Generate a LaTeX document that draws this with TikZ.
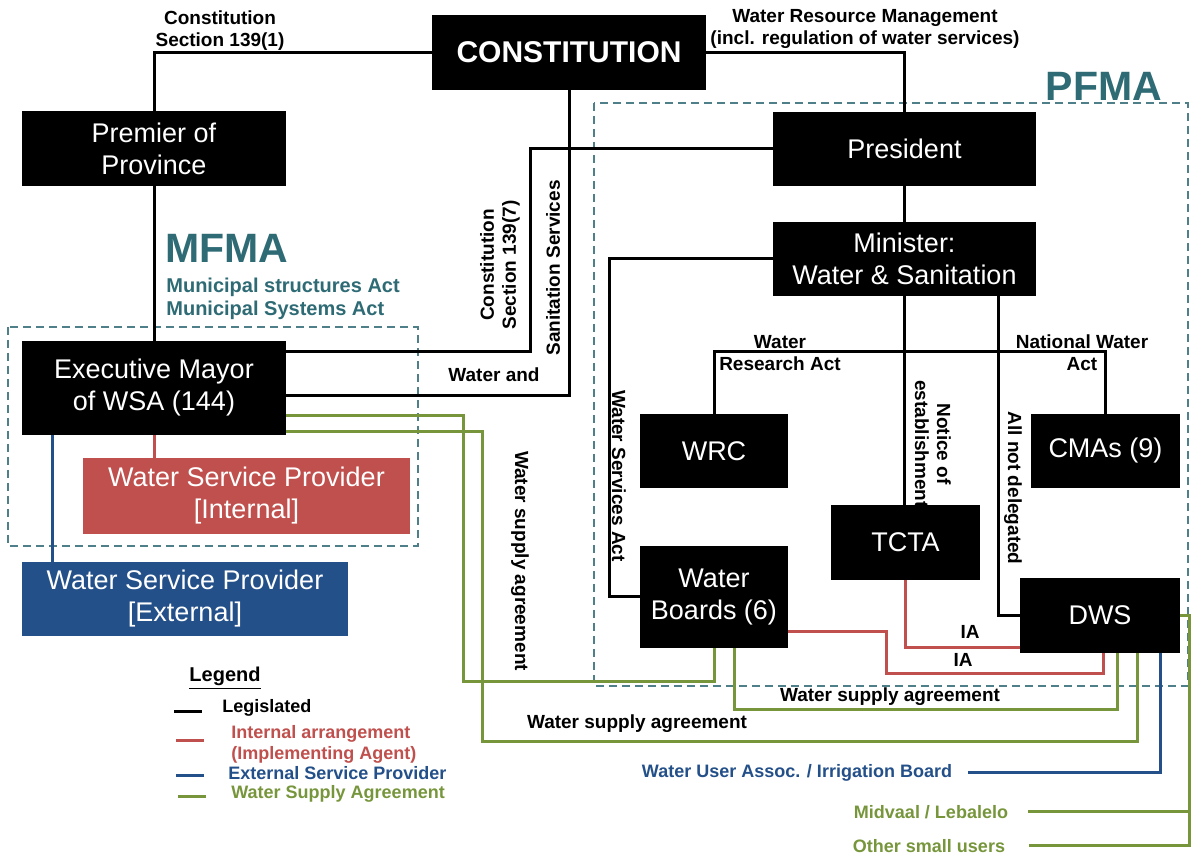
\documentclass[tikz,border=0pt]{standalone}
\usepackage{fontspec}
\setmainfont{Liberation Sans}
\usepackage{xcolor}
\usepackage{tikz}
\usetikzlibrary{positioning,calc}

\definecolor{tealtxt}{HTML}{2E6B75}
\definecolor{zonecol}{HTML}{4F7F88}
\definecolor{iared}{HTML}{C0504D}
\definecolor{espblue}{HTML}{24508A}
\definecolor{wsagreen}{HTML}{77963C}

\begin{document}
\begin{tikzpicture}[
  x=0.5pt, y=-0.5pt,
  blk/.style={fill=black, text=white, align=center, inner sep=2pt, font=\fontsize{13.5}{16}\selectfont},
  lbl/.style={font=\bfseries\fontsize{9.5}{11}\selectfont, align=center, inner sep=1pt},
  keytxt/.style={anchor=west, align=left, inner sep=1pt, font=\bfseries\fontsize{9}{10.5}\selectfont},
  zone/.style={draw=zonecol, dash pattern=on 4pt off 2.5pt, line width=0.6pt},
  leg/.style={draw=black, line width=1.5pt},
  ia/.style={leg, draw=iared},
  esp/.style={leg, draw=espblue},
  wsa/.style={leg, draw=wsagreen},
]
\fill[white] (0,0) rectangle (1191,854);
\useasboundingbox (0,0) rectangle (1191,854);
% zones
\draw[zone] (8,327) rectangle (418,546);
\draw[zone] (594,103) rectangle (1188,686);
\node[font=\bfseries\fontsize{20.5}{24}\selectfont, text=tealtxt, anchor=west, inner sep=0] (mfmat) at (165,248) {MFMA};
\node[font=\bfseries\fontsize{10}{11.5}\selectfont, text=tealtxt, anchor=west, align=left, inner sep=0] (acts) at (166,299) {Municipal structures Act\\Municipal Systems Act};
\node[font=\bfseries\fontsize{20.5}{24}\selectfont, text=tealtxt, inner sep=0] (pfmat) at (1104,86) {PFMA};
% boxes
\node[blk, minimum width=137pt, minimum height=37.5pt, font=\bfseries\fontsize{15}{18}\selectfont] (const) at (569,52.5) {CONSTITUTION};
\node[blk, minimum width=132pt, minimum height=37.5pt] (prem) at (154,148.5) {Premier of\\Province};
\node[blk, minimum width=132pt, minimum height=47pt] (mayor) at (154,388) {Executive Mayor\\of WSA (144)};
\node[blk, fill=iared, minimum width=163.5pt, minimum height=38pt] (wspi) at (246.5,496) {Water Service Provider\\{[Internal]}};
\node[blk, fill=espblue, minimum width=163pt, minimum height=37pt] (wspe) at (185,599) {Water Service Provider\\{[External]}};
\node[blk, minimum width=131.5pt, minimum height=37pt] (pres) at (904.5,149) {President};
\node[blk, minimum width=131.5pt, minimum height=37pt] (mini) at (904.5,259) {Minister:\\Water \& Sanitation};
\node[blk, minimum width=74pt, minimum height=37pt] (wrc) at (714,451) {WRC};
\node[blk, minimum width=74.5pt, minimum height=37pt] (cma) at (1105.5,451) {CMAs (9)};
\node[blk, minimum width=74.5pt, minimum height=37.5pt] (tcta) at (905.5,542.5) {TCTA};
\node[blk, minimum width=74pt, minimum height=51pt] (wb) at (714,597) {Water\\Boards (6)};
\node[blk, minimum width=80pt, minimum height=37.5pt] (dws) at (1100,615.5) {DWS};
% legislated
\draw[leg] (const.west) -| (prem.north);
\draw[leg] (prem) -- (mayor);
\draw[leg] (const.east) -| (pres.north);
\draw[leg] (pres.west) -| (530,352) -- (mayor.east |- 0,352);
\draw[leg] (const.south) |- (mayor.east |- 0,396);
\draw[leg] (pres) -- (mini);
\draw[leg] (mini.south) -- (mini.south |- tcta.north);
\draw[leg] (wrc.north) -- ++(0,-62) -| (cma.north);
\draw[leg] ($(mini.south east)+(-38,0)$) |- (dws.west);
\draw[leg] (mini.west) -- ++(-163,0) |- (wb.west);
\node[lbl] at (220,31) {Constitution\\Section 139(1)};
\node[lbl] at (865,29) {Water Resource Management\\(incl. regulation of water services)};
\node[lbl, rotate=90] at (500,265) {Constitution\\Section 139(7)};
\node[lbl, rotate=90] at (553,268) {Sanitation Services};
\node[lbl] at (494,375) {Water and};
\node[lbl] at (780,353) {Water\\Research Act};
\node[lbl] at (1082,353) {National Water\\Act};
\node[lbl, rotate=-90] at (933,444) {Notice of\\establishment};
\node[lbl, rotate=-90] at (1013,488) {All not delegated};
\node[lbl, rotate=-90] at (619,476) {Water Services Act};
% implementing agent
\draw[ia] (mayor.south) -- (mayor.south |- wspi.north);
\draw[ia] (tcta.south) |- (dws.west |- 0,648);
\draw[ia] (wb.east |- 0,632) -- (886,632) |- (1103,674) -- (dws.south -| 1103,0);
\node[lbl] at (970,632) {IA};
\node[lbl] at (963,660) {IA};
% external provider
\draw[esp] (mayor.south -| 52,0) -- (wspe.north -| 52,0);
\node[lbl, font=\bfseries\fontsize{9}{11}\selectfont, text=espblue] (wua) at (797,773) {Water User Assoc. / Irrigation Board};
\draw[esp] (dws.south -| 1160,0) |- ([xshift=7pt]wua.east);
% water supply agreements
\draw[wsa] (mayor.east |- 0,416) -| (463,682) -| (wb.south);
\draw[wsa] (mayor.east |- 0,432) -| (482,742) -| (dws.south -| 1137,0);
\draw[wsa] (wb.south -| 734,0) -- (734,710) -| (dws.south -| 1117,0);
\node[lbl, rotate=-90] at (520,561) {Water supply agreement};
\node[lbl] at (890,697) {Water supply agreement};
\node[lbl] at (637,724) {Water supply agreement};
\node[lbl, font=\bfseries\fontsize{9}{11}\selectfont, text=wsagreen] (mid) at (931,812) {Midvaal / Lebalelo};
\node[lbl, font=\bfseries\fontsize{9}{11}\selectfont, text=wsagreen] (small) at (929,846) {Other small users};
\coordinate (rail) at (1189,812);
\draw[wsa] (dws.east) -| (rail) -- ([xshift=9pt]mid.east);
\draw[wsa] (rail) |- ([xshift=11pt]small.east);
% legend
\node[font=\bfseries\fontsize{10}{12}\selectfont] (lgd) at (225,678) {\underline{Legend}};
\node[keytxt] (lgA) at (220,708) {Legislated};
\node[keytxt, text=iared] (lgB) at (229,744) {Internal arrangement\\(Implementing Agent)};
\node[keytxt, text=espblue] (lgC) at (226,773) {External Service Provider};
\node[keytxt, text=wsagreen] (lgD) at (229,794) {Water Supply Agreement};
\draw[leg] (174,712) -- (202,712);
\draw[ia] (176,741) -- (204,741);
\draw[esp] (176,776) -- (204,776);
\draw[wsa] (178,797) -- (206,797);
\end{tikzpicture}
\end{document}
